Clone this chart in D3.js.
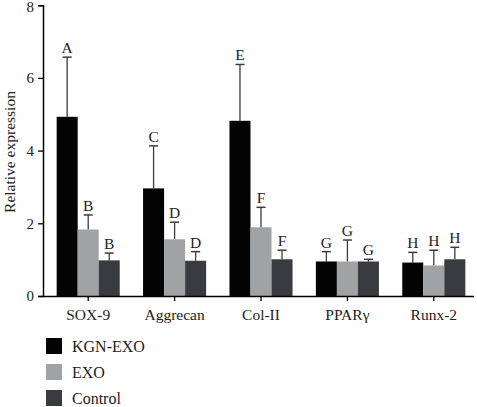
<!DOCTYPE html>
<html><head><meta charset="utf-8">
<script src="https://cdn.jsdelivr.net/npm/d3@7"></script>
<style>body{margin:0;background:#fff}svg{display:block}</style>
</head><body>
<svg id="c" width="477" height="407"></svg>
<script>
const categories = ["SOX-9", "Aggrecan", "Col-II", "PPARγ", "Runx-2"];
const seriesNames = ["KGN-EXO", "EXO", "Control"];
const seriesColors = ["#030303", "#a0a2a4", "#3a3b3e"];
const kgnValues = [4.93, 2.96, 4.82, 0.95, 0.92];
const kgnErr = [1.64, 1.17, 1.55, 0.27, 0.28];
const exoValues = [1.83, 1.56, 1.89, 0.95, 0.84];
const exoErr = [0.40, 0.47, 0.55, 0.59, 0.42];
const ctrlValues = [0.98, 0.97, 1.01, 0.95, 1.01];
const ctrlErr = [0.20, 0.25, 0.25, 0.06, 0.33];
const kgnLetters = ["A", "C", "E", "G", "H"];
const exoLetters = ["B", "D", "F", "G", "H"];
const ctrlLetters = ["B", "D", "F", "G", "H"];
const yTicks = [0, 2, 4, 6, 8];

const series = [
  {name: seriesNames[0], color: seriesColors[0], values: kgnValues, err: kgnErr, letters: kgnLetters},
  {name: seriesNames[1], color: seriesColors[1], values: exoValues, err: exoErr, letters: exoLetters},
  {name: seriesNames[2], color: seriesColors[2], values: ctrlValues, err: ctrlErr, letters: ctrlLetters}
];

const svg = d3.select("#c");
const font = "'Liberation Serif', 'DejaVu Serif', serif";
const x0 = d3.scaleBand().domain(categories).range([45, 477]).paddingInner(0.27).paddingOuter(0.135);
const x1 = d3.scaleBand().domain(seriesNames).range([0, x0.bandwidth()]);
const y = d3.scaleLinear().domain([0, 8]).range([296, 5.2]);

// bars
series.forEach(s => {
  const g = svg.append("g");
  categories.forEach((c, i) => {
    const bx = x0(c) + x1(s.name);
    const bw = x1.bandwidth();
    const cx = bx + bw / 2;
    const top = y(s.values[i]);
    const et = y(s.values[i] + s.err[i]);
    g.append("line").attr("x1", cx).attr("x2", cx).attr("y1", top).attr("y2", et)
      .attr("stroke", "#3c3c3c").attr("stroke-width", 1.3);
    g.append("line").attr("x1", cx - 4.5).attr("x2", cx + 4.5).attr("y1", et).attr("y2", et)
      .attr("stroke", "#3c3c3c").attr("stroke-width", 1.5);
    g.append("rect").attr("x", bx).attr("y", top).attr("width", bw).attr("height", y(0) - top)
      .attr("fill", s.color);
    g.append("text").attr("x", cx).attr("y", et - 4).attr("text-anchor", "middle")
      .attr("font-family", font).attr("font-size", 15.5).attr("fill", "#222").text(s.letters[i]);
  });
});

// axes
const yAxis = d3.axisLeft(y).tickValues(yTicks).tickSize(5).tickFormat(d3.format("d"));
const ya = svg.append("g").attr("transform", "translate(43,0)").call(yAxis);
ya.select(".domain").attr("stroke-width", 1.5);
ya.selectAll(".tick line").attr("stroke-width", 1.3);
ya.selectAll("text").attr("font-family", font).attr("font-size", 15).attr("fill", "#222").attr("dx", "-1");
ya.selectAll(".tick").filter(d => d === 8).select("text").attr("dy", "0.42em");

const xAxis = d3.axisBottom(x0).tickSize(5).tickSizeOuter(0);
const xa = svg.append("g").attr("transform", "translate(0,296)").call(xAxis);
xa.select(".domain").attr("d", "M43,0.5H474").attr("stroke-width", 1.5);
xa.selectAll(".tick line").attr("stroke-width", 1.3);
xa.selectAll("text").attr("font-family", font).attr("font-size", 15.5).attr("fill", "#222").attr("dy", "1.0em");

svg.append("text").attr("transform", "translate(15,152) rotate(-90)").attr("text-anchor", "middle")
  .attr("font-family", font).attr("font-size", 15.5).attr("fill", "#222").text("Relative expression");

// legend
const leg = svg.append("g");
series.forEach((s, i) => {
  const ly = 338 + i * 26;
  leg.append("rect").attr("x", 46).attr("y", ly).attr("width", 16).attr("height", 16).attr("fill", s.color);
  leg.append("text").attr("x", 72).attr("y", ly + 14).attr("font-family", font).attr("font-size", 16)
    .attr("fill", "#222").text(s.name);
});
</script>
</body></html>
